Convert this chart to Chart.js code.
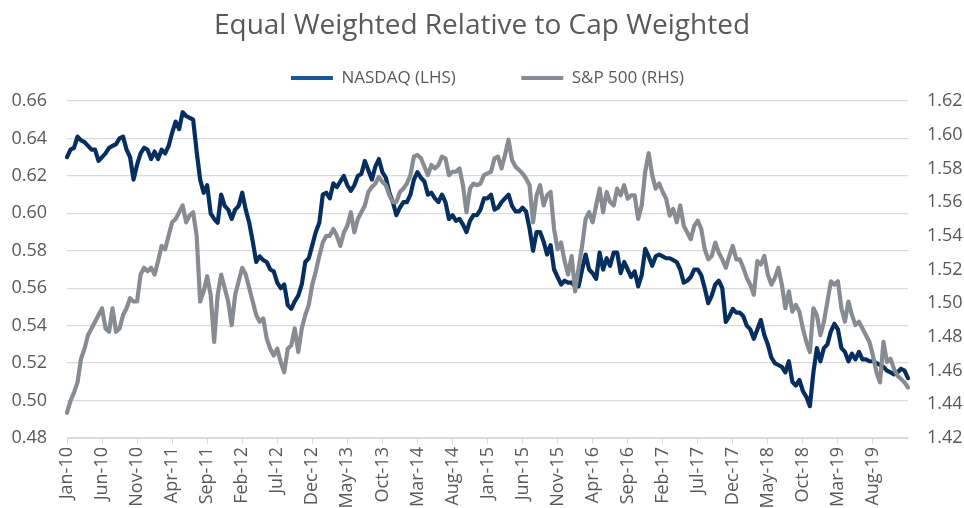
<!DOCTYPE html>
<html>
<head>
<meta charset="utf-8">
<script src="https://cdn.jsdelivr.net/npm/chart.js@4.4.1/dist/chart.umd.min.js"></script>
<style>
html,body{margin:0;padding:0;background:#fff;overflow:hidden}
#wrap{width:964px;height:508px}
</style>
</head>
<body>
<div id="wrap"><canvas id="c" width="964" height="508"></canvas></div>
<script>
// Half-monthly observations, Jan 2010 to end of Dec 2019
const MONTHS = ['Jan','Feb','Mar','Apr','May','Jun','Jul','Aug','Sep','Oct','Nov','Dec'];
const dates = [];
for (let m = 0; m <= 120; m++) {
  for (const d of ['01', '16']) {
    if (m === 120 && d === '16') break;
    dates.push(d + '-' + MONTHS[m % 12] + '-' + (10 + Math.floor(m / 12)));
  }
}

// Axis tick labels (every 5 months)
const tickLabels = ['Jan-10','Jun-10','Nov-10','Apr-11','Sep-11','Feb-12','Jul-12','Dec-12',
  'May-13','Oct-13','Mar-14','Aug-14','Jan-15','Jun-15','Nov-15','Apr-16','Sep-16','Feb-17',
  'Jul-17','Dec-17','May-18','Oct-18','Mar-19','Aug-19'];

// NASDAQ equal weighted / cap weighted (LHS)
const NASDAQ = [
  0.630, 0.634, 0.635, 0.641, 0.639, 0.638, 0.636, 0.634, 0.634, 0.628,
  0.630, 0.632, 0.635, 0.636, 0.637, 0.640, 0.641, 0.634, 0.630, 0.618,
  0.626, 0.632, 0.635, 0.634, 0.629, 0.633, 0.629, 0.634, 0.632, 0.636,
  0.643, 0.649, 0.645, 0.654, 0.652, 0.651, 0.650, 0.633, 0.618, 0.611,
  0.615, 0.600, 0.597, 0.595, 0.610, 0.604, 0.602, 0.597, 0.602, 0.604,
  0.611, 0.602, 0.595, 0.585, 0.574, 0.577, 0.575, 0.574, 0.570, 0.569,
  0.563, 0.560, 0.562, 0.551, 0.549, 0.553, 0.556, 0.562, 0.574, 0.576,
  0.583, 0.590, 0.595, 0.610, 0.611, 0.608, 0.616, 0.614, 0.617, 0.620,
  0.615, 0.612, 0.615, 0.620, 0.621, 0.628, 0.623, 0.618, 0.625, 0.629,
  0.622, 0.619, 0.611, 0.606, 0.599, 0.603, 0.606, 0.606, 0.610, 0.618,
  0.622, 0.619, 0.617, 0.610, 0.611, 0.608, 0.606, 0.610, 0.606, 0.597,
  0.599, 0.596, 0.597, 0.594, 0.590, 0.596, 0.599, 0.599, 0.602, 0.608,
  0.608, 0.610, 0.602, 0.603, 0.606, 0.608, 0.610, 0.604, 0.601, 0.601,
  0.603, 0.601, 0.592, 0.580, 0.590, 0.590, 0.585, 0.578, 0.583, 0.570,
  0.566, 0.562, 0.564, 0.563, 0.563, 0.561, 0.561, 0.570, 0.578, 0.570,
  0.568, 0.565, 0.579, 0.570, 0.576, 0.572, 0.579, 0.579, 0.568, 0.574,
  0.570, 0.566, 0.569, 0.561, 0.567, 0.581, 0.577, 0.572, 0.577, 0.578,
  0.577, 0.576, 0.576, 0.575, 0.574, 0.570, 0.563, 0.564, 0.566, 0.570,
  0.570, 0.567, 0.560, 0.552, 0.556, 0.562, 0.564, 0.560, 0.542, 0.545,
  0.549, 0.547, 0.547, 0.545, 0.540, 0.538, 0.533, 0.538, 0.543, 0.535,
  0.530, 0.523, 0.520, 0.519, 0.518, 0.515, 0.521, 0.510, 0.508, 0.511,
  0.505, 0.502, 0.497, 0.515, 0.528, 0.521, 0.528, 0.530, 0.537, 0.541,
  0.538, 0.528, 0.526, 0.521, 0.525, 0.522, 0.526, 0.522, 0.522, 0.521,
  0.521, 0.520, 0.519, 0.518, 0.516, 0.515, 0.514, 0.515, 0.517, 0.516,
  0.512
];

// S&P 500 equal weighted / cap weighted (RHS)
const SP500 = [
  1.435, 1.442, 1.447, 1.453, 1.467, 1.473, 1.481, 1.485, 1.489, 1.493,
  1.497, 1.485, 1.483, 1.497, 1.483, 1.485, 1.493, 1.497, 1.503, 1.501,
  1.501, 1.517, 1.521, 1.519, 1.521, 1.517, 1.525, 1.534, 1.532, 1.540,
  1.548, 1.550, 1.554, 1.558, 1.548, 1.552, 1.554, 1.540, 1.501, 1.507,
  1.516, 1.505, 1.477, 1.505, 1.517, 1.509, 1.501, 1.487, 1.505, 1.513,
  1.521, 1.517, 1.509, 1.501, 1.493, 1.489, 1.491, 1.479, 1.473, 1.469,
  1.473, 1.465, 1.459, 1.473, 1.475, 1.485, 1.471, 1.485, 1.493, 1.499,
  1.511, 1.519, 1.528, 1.536, 1.540, 1.540, 1.544, 1.540, 1.534, 1.542,
  1.546, 1.554, 1.542, 1.550, 1.554, 1.558, 1.566, 1.569, 1.571, 1.575,
  1.572, 1.570, 1.564, 1.560, 1.560, 1.566, 1.568, 1.571, 1.576, 1.587,
  1.588, 1.586, 1.581, 1.576, 1.582, 1.580, 1.582, 1.587, 1.586, 1.576,
  1.578, 1.578, 1.580, 1.570, 1.554, 1.568, 1.571, 1.570, 1.571, 1.576,
  1.577, 1.578, 1.586, 1.587, 1.580, 1.588, 1.597, 1.585, 1.581, 1.579,
  1.577, 1.574, 1.570, 1.548, 1.564, 1.570, 1.558, 1.564, 1.566, 1.544,
  1.532, 1.536, 1.525, 1.517, 1.528, 1.507, 1.521, 1.534, 1.550, 1.554,
  1.548, 1.558, 1.568, 1.554, 1.566, 1.560, 1.558, 1.568, 1.564, 1.570,
  1.562, 1.564, 1.564, 1.550, 1.558, 1.578, 1.589, 1.576, 1.568, 1.571,
  1.566, 1.562, 1.552, 1.556, 1.548, 1.558, 1.546, 1.542, 1.538, 1.546,
  1.549, 1.544, 1.532, 1.526, 1.528, 1.536, 1.530, 1.526, 1.521, 1.528,
  1.534, 1.526, 1.526, 1.521, 1.515, 1.511, 1.505, 1.525, 1.523, 1.528,
  1.517, 1.511, 1.515, 1.521, 1.511, 1.497, 1.507, 1.495, 1.499, 1.495,
  1.485, 1.477, 1.471, 1.497, 1.493, 1.481, 1.489, 1.501, 1.513, 1.511,
  1.513, 1.497, 1.489, 1.501, 1.493, 1.487, 1.489, 1.485, 1.481, 1.477,
  1.469, 1.459, 1.453, 1.477, 1.465, 1.467, 1.461, 1.457, 1.455, 1.453,
  1.450
];

const TEXT = '#595959';
const GRID = '#d9d9d9';
Chart.defaults.font.family = "'Open Sans', 'DejaVu Sans', sans-serif";
Chart.defaults.color = TEXT;

new Chart(document.getElementById('c'), {
  type: 'line',
  data: {
    labels: dates,
    datasets: [
      { label: 'S&P 500 (RHS)', data: SP500, yAxisID: 'yR', borderColor: '#868c92',
        borderWidth: 4.2, pointRadius: 0, tension: 0, borderJoinStyle: 'round', borderCapStyle: 'round' },
      { label: 'NASDAQ (LHS)', data: NASDAQ, yAxisID: 'yL', borderColor: '#062f5f',
        borderWidth: 4.2, pointRadius: 0, tension: 0, borderJoinStyle: 'round', borderCapStyle: 'round' }
    ]
  },
  options: {
    responsive: false,
    animation: false,
    devicePixelRatio: 1,
    layout: { padding: 0 },
    plugins: {
      title: {
        display: true, text: 'Equal Weighted Relative to Cap Weighted', color: TEXT,
        font: { size: 28, weight: 'normal' }, padding: { top: 9, bottom: -38.6 }
      },
      subtitle: {
        // thin spacer between legend and plot area
        display: true, text: '', weight: 900, font: { size: 3.75 }, padding: 0
      },
      legend: {
        display: true, reverse: true, fullSize: false,
        labels: {
          usePointStyle: true, pointStyle: 'line', pointStyleWidth: 42,
          font: { size: 17 }, color: TEXT, padding: 65.5,
          generateLabels(chart) {
            const items = Chart.defaults.plugins.legend.labels.generateLabels(chart);
            items.forEach(it => { if (it.text.startsWith('NASDAQ')) it.strokeStyle = '#1b5796'; });
            return items;
          }
        }
      },
      tooltip: { enabled: false }
    },
    scales: {
      x: {
        ticks: {
          autoSkip: false, minRotation: 90, maxRotation: 90, padding: 3,
          font: { size: 18 }, color: TEXT,
          callback: (v, i) => (i % 10 === 0 && tickLabels[i / 10]) ? tickLabels[i / 10] : null
        },
        grid: { drawOnChartArea: false, tickLength: 6, color: GRID },
        border: { color: GRID },
        afterFit: s => { s.height = 70; }
      },
      yL: {
        position: 'left', min: 0.48, max: 0.66,
        ticks: { stepSize: 0.02, padding: 20, font: { size: 18 }, color: TEXT, callback: v => v.toFixed(2) },
        grid: { color: GRID, lineWidth: 1.3, drawTicks: false },
        border: { display: false },
        afterFit: s => { s.width = 67; }
      },
      yR: {
        position: 'right', min: 1.42, max: 1.62,
        ticks: { stepSize: 0.02, padding: 19, font: { size: 18 }, color: TEXT, callback: v => v.toFixed(2) },
        grid: { drawOnChartArea: false, drawTicks: false },
        border: { display: false },
        afterFit: s => { s.width = 56; }
      }
    }
  }
});
</script>
</body>
</html>
